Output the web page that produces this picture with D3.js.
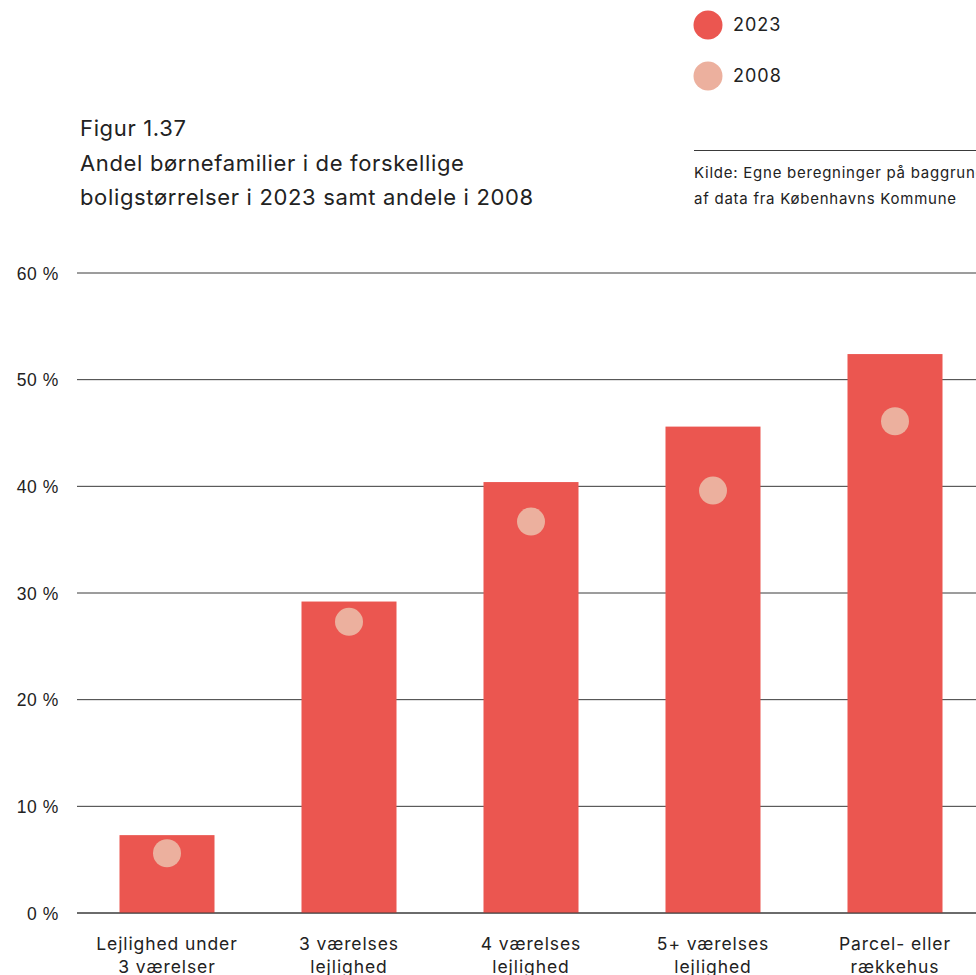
<!DOCTYPE html>
<html><head><meta charset="utf-8">
<script src="https://cdn.jsdelivr.net/npm/d3@7"></script>
<style>body{margin:0;background:#fff;}svg{display:block;font-family:Inter,"Noto Sans",sans-serif;}</style>
</head><body>
<script>
const categories = [["Lejlighed under","3 værelser"],["3 værelses","lejlighed"],["4 værelses","lejlighed"],["5+ værelses","lejlighed"],["Parcel- eller","rækkehus"]];
const values2023 = [7.3, 29.2, 40.4, 45.6, 52.4];
const values2008 = [5.6, 27.3, 36.7, 39.6, 46.1];
const yTicks = [0,10,20,30,40,50,60];
const seriesNames = ["2023","2008"];
const colors = ["#EB5650","#ECB09E"];

const W=976,H=975;
const svg=d3.select("body").append("svg").attr("width",W).attr("height",H);
const x=d3.scaleBand().domain(d3.range(categories.length)).range([76,986]).paddingInner(0.478).paddingOuter(0.239);
const y=d3.scaleLinear().domain([0,60]).range([913,273]);

// gridlines
const yAxis=d3.axisLeft(y).tickValues(yTicks).tickFormat(d=>d+" %").tickSize(0).tickPadding(0);
svg.append("g").selectAll("line.grid").data(yTicks).join("line").attr("class","grid")
 .attr("x1",77).attr("x2",W).attr("y1",d=>y(d)).attr("y2",d=>y(d))
 .attr("stroke","#3a3a3a").attr("stroke-width",1);
const ax=svg.append("g").attr("transform","translate(59,0)").call(yAxis);
ax.select(".domain").remove();
ax.selectAll("text").attr("font-size",17.5).attr("letter-spacing","0.6px").attr("fill","#222").attr("dy","0.35em").attr("font-family",null);

// bars
svg.selectAll("rect.bar").data(values2023).join("rect").attr("class","bar")
 .attr("x",(d,i)=>x(i)).attr("width",x.bandwidth()).attr("y",d=>y(d)).attr("height",d=>y(0)-y(d)).attr("fill",colors[0]);
svg.append("line").attr("x1",77).attr("x2",W).attr("y1",y(0)).attr("y2",y(0)).attr("stroke","#3a3a3a");
// dots
svg.selectAll("circle.dot").data(values2008).join("circle").attr("class","dot")
 .attr("cx",(d,i)=>x(i)+x.bandwidth()/2).attr("cy",d=>y(d)).attr("r",14).attr("fill",colors[1]);

// category labels
const cl=svg.selectAll("text.cat").data(categories).join("text").attr("class","cat")
 .attr("text-anchor","middle").attr("font-size",17.5).attr("letter-spacing","0.9px").attr("fill","#222");
cl.each(function(d,i){
  const t=d3.select(this);
  d.forEach((line,j)=>t.append("tspan").attr("x",x(i)+x.bandwidth()/2).attr("y",950+j*22.5).text(line));
});

// title
const title=["Figur 1.37","Andel børnefamilier i de forskellige","boligstørrelser i 2023 samt andele i 2008"];
svg.append("text").attr("font-size",22).attr("letter-spacing","0.65px").attr("fill","#222").selectAll("tspan").data(title).join("tspan")
 .attr("x",80).attr("y",(d,i)=>136+i*34.5).text(d=>d);

// legend
const lg=svg.selectAll("g.leg").data(seriesNames).join("g").attr("class","leg")
 .attr("transform",(d,i)=>`translate(708,${25+i*51})`);
lg.append("circle").attr("r",14.5).attr("fill",(d,i)=>colors[i]);
lg.append("text").attr("x",25).attr("dy","0.35em").attr("font-size",18).attr("letter-spacing","1px").attr("fill","#222").text(d=>d);

// source
svg.append("line").attr("x1",694).attr("x2",W).attr("y1",150.5).attr("y2",150.5).attr("stroke","#3a3a3a");
const src=["Kilde: Egne beregninger på baggrund","af data fra Københavns Kommune"];
svg.append("text").attr("font-size",15).attr("letter-spacing","0.75px").attr("fill","#222").selectAll("tspan").data(src).join("tspan")
 .attr("x",694).attr("y",(d,i)=>178+i*26).text(d=>d);
</script>
</body></html>
